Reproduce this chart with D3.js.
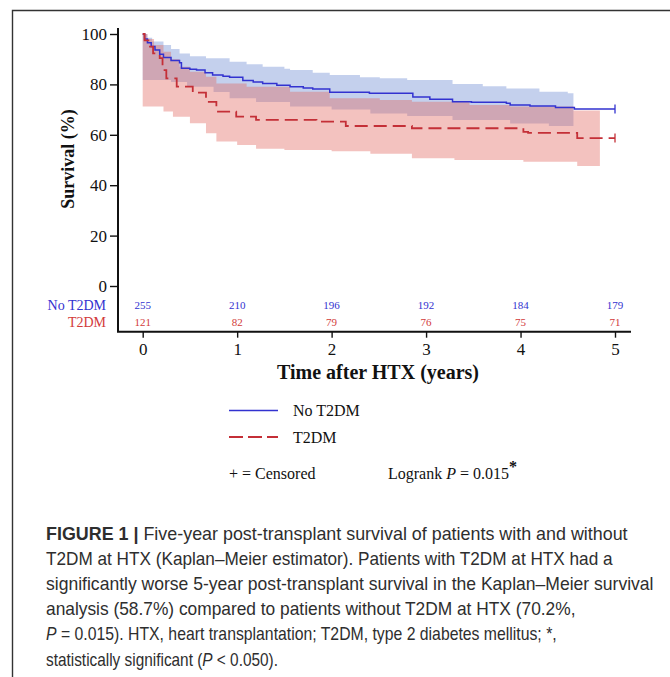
<!DOCTYPE html>
<html>
<head>
<meta charset="utf-8">
<script src="https://cdn.jsdelivr.net/npm/d3@7"></script>
<style>
  body { margin: 0; background: #fff; }
  svg { display: block; }
</style>
</head>
<body>
<div class="fig"></div>
<script>
// chart data
const years = [0, 1, 2, 3, 4, 5];
const yTicks = [0, 20, 40, 60, 80, 100];
const groups = ["No T2DM", "T2DM"];
const atRiskNo = [255, 210, 196, 192, 184, 179];
const atRiskT2 = [121, 82, 79, 76, 75, 71];

// No T2DM: Kaplan-Meier steps
const noTime = [0, 0.02, 0.05, 0.09, 0.13, 0.18, 0.22, 0.30, 0.39, 0.41, 0.50, 0.57, 0.66, 0.74, 0.85, 0.92, 1.06, 1.17, 1.27, 1.42, 1.56, 1.70, 1.80, 1.98, 2.40, 2.86, 3.04, 3.28, 3.48, 3.85, 3.89, 4.10, 4.37, 4.57];
const noSurv = [100, 98, 96.5, 95, 93.7, 92, 90.7, 89.5, 88.6, 86.4, 86, 85.7, 84.6, 83.7, 83.2, 82.8, 81.5, 81, 80.4, 79.7, 79.1, 78.6, 78.2, 76.9, 76.5, 75.0, 74.1, 73.1, 72.9, 72.5, 71.8, 71.4, 70.8, 70.2];
const noHiTime = [0, 0.05, 0.10, 0.22, 0.30, 0.39, 0.50, 0.67, 0.92, 1.10, 1.27, 1.50, 1.56, 1.80, 1.98, 2.30, 2.51, 2.80, 3.28, 3.60, 3.85, 4.20, 4.50];
const noHi = [100, 98.5, 97, 95.6, 94, 92.3, 91.2, 90.4, 89, 88, 87, 86.2, 85.7, 84.6, 83.7, 82.8, 82.4, 81.7, 80.2, 79.3, 78.4, 77.1, 76.5];
const noLoTime = [0, 0.30, 0.47, 0.75, 0.92, 1.20, 1.56, 2.00, 2.41, 2.80, 3.28, 3.89, 4.30];
const noLo = [81.7, 81, 79.1, 77, 74.5, 73, 71.2, 70, 68.5, 67.5, 65.9, 64.5, 63.5];
const noBandEnd = 4.56;

// T2DM: Kaplan-Meier steps
const t2Time = [0, 0.02, 0.06, 0.11, 0.18, 0.21, 0.25, 0.36, 0.53, 0.67, 0.78, 0.99, 1.20, 1.84, 2.15, 2.85, 4.03, 4.08, 4.60];
const t2Surv = [100, 97.5, 95, 92.3, 90.4, 85.7, 82.4, 79.1, 76.7, 73.1, 69.2, 67.2, 65.9, 65.2, 63.5, 62.6, 61.2, 60.8, 58.7];
const t2HiTime = [0, 0.05, 0.12, 0.22, 0.30, 0.39, 0.50, 0.67, 0.78, 1.10, 1.56, 1.98, 2.51, 2.85, 3.46, 3.89, 4.56];
const t2Hi = [100, 98, 95.6, 93, 90, 87, 85, 83, 80.4, 79.1, 77.1, 74.5, 73.8, 73.1, 71.8, 71.2, 69.6];
const t2LoTime = [0, 0.22, 0.32, 0.50, 0.67, 0.78, 1.00, 1.20, 1.50, 2.00, 2.41, 2.85, 3.30, 4.03, 4.60];
const t2Lo = [71.2, 69.2, 67.2, 64.6, 60.6, 57.3, 56, 54.5, 54, 53.5, 52.5, 50.7, 50, 49.3, 47.6];
const t2BandEnd = 4.84;

const followEnd = 5;

const captionLines = [
  [["FIGURE 1 | ", "b"], ["Five-year post-transplant survival of patients with and without", ""]],
  [["T2DM at HTX (Kaplan\u2013Meier estimator). Patients with T2DM at HTX had a", ""]],
  [["significantly worse 5-year post-transplant survival in the Kaplan\u2013Meier survival", ""]],
  [["analysis (58.7%) compared to patients without T2DM at HTX (70.2%,", ""]],
  [["P", "i"], [" = 0.015). HTX, heart transplantation; T2DM, type 2 diabetes mellitus; *,", ""]],
  [["statistically significant (", ""], ["P", "i"], [" < 0.050).", ""]]
];
// line widths as set in the figure (condensed face)
const captionWidths = [582, 567, 608, 530, 511, 232];

const width = 670, height = 677;
const blue = "#3232d0", red = "#c42f37";
const serif = "'Liberation Serif', 'Times New Roman', serif";

const svg = d3.select(".fig").append("svg")
  .attr("width", width)
  .attr("height", height);

// frame
svg.append("path")
  .attr("d", "M12.5,677V10.5H670")
  .attr("fill", "none")
  .attr("stroke", "#333")
  .attr("stroke-width", 1.4);

const x = d3.scaleLinear().domain([0, 5]).range([142.7, 615]);
const y = d3.scaleLinear().domain([0, 100]).range([286, 34]);

function steps(ts, vs, end) {
  const pts = ts.map((t, i) => [t, vs[i]]);
  pts.push([end, vs[vs.length - 1]]);
  return pts;
}
function valueAt(ts, vs, t) {
  let v = vs[0];
  for (let i = 0; i < ts.length; i++) if (ts[i] <= t) v = vs[i];
  return v;
}
function band(hiT, hi, loT, lo, end) {
  const ts = Array.from(new Set(hiT.concat(loT))).sort((a, b) => a - b);
  ts.push(end);
  return ts.map(t => ({ t: t, hi: valueAt(hiT, hi, t), lo: valueAt(loT, lo, t) }));
}

const area = d3.area()
  .curve(d3.curveStepAfter)
  .x(d => x(d.t))
  .y0(d => y(d.lo))
  .y1(d => y(d.hi));

const line = d3.line()
  .curve(d3.curveStepAfter)
  .x(d => x(d[0]))
  .y(d => y(d[1]));

// confidence bands
svg.append("path")
  .datum(band(noHiTime, noHi, noLoTime, noLo, noBandEnd))
  .attr("d", area)
  .attr("fill", "rgb(70,110,200)")
  .attr("fill-opacity", 0.32);

svg.append("path")
  .datum(band(t2HiTime, t2Hi, t2LoTime, t2Lo, t2BandEnd))
  .attr("d", area)
  .attr("fill", "rgb(224,102,96)")
  .attr("fill-opacity", 0.4);

// survival curves
const noPts = steps(noTime, noSurv, followEnd);
const t2Pts = steps(t2Time, t2Surv, followEnd);

svg.append("path")
  .datum(noPts)
  .attr("d", line)
  .attr("fill", "none")
  .attr("stroke", blue)
  .attr("stroke-width", 1.5);

svg.append("path")
  .datum(t2Pts)
  .attr("d", line)
  .attr("fill", "none")
  .attr("stroke", red)
  .attr("stroke-width", 1.8)
  .attr("stroke-dasharray", "13,6");

// censor marks at end of follow-up
svg.selectAll(".cens")
  .data([[noPts[noPts.length - 1], blue], [t2Pts[t2Pts.length - 1], red]])
  .enter()
  .append("line")
  .attr("x1", d => x(d[0][0]))
  .attr("x2", d => x(d[0][0]))
  .attr("y1", d => y(d[0][1]) - 4.5)
  .attr("y2", d => y(d[0][1]) + 4.5)
  .attr("stroke", d => d[1])
  .attr("stroke-width", 1.3);

// axes
const yAxis = svg.append("g")
  .attr("transform", "translate(118,0)")
  .call(d3.axisLeft(y).tickValues(yTicks).tickSize(8).tickPadding(3));
yAxis.select(".domain").remove();
yAxis.selectAll(".tick line").attr("stroke", "#111").attr("stroke-width", 1.4);
yAxis.selectAll("text").attr("font-family", serif).attr("font-size", 17).attr("fill", "#111");

const xAxis = svg.append("g")
  .attr("transform", "translate(0,331.7)")
  .call(d3.axisBottom(x).tickValues(years).tickFormat(d3.format("d")).tickSize(6).tickPadding(5));
xAxis.select(".domain").remove();
xAxis.selectAll(".tick line").attr("stroke", "#111").attr("stroke-width", 1.4);
xAxis.selectAll("text").attr("font-family", serif).attr("font-size", 17).attr("fill", "#111");

svg.append("path")
  .attr("d", "M118,28V331.7H631")
  .attr("fill", "none")
  .attr("stroke", "#111")
  .attr("stroke-width", 2);

// axis titles
svg.append("text")
  .attr("transform", "translate(74,159) rotate(-90)")
  .attr("text-anchor", "middle")
  .attr("font-family", serif)
  .attr("font-weight", "bold")
  .attr("font-size", 18)
  .attr("fill", "#111")
  .text("Survival (%)");

svg.append("text")
  .attr("x", 378)
  .attr("y", 379)
  .attr("text-anchor", "middle")
  .attr("font-family", serif)
  .attr("font-weight", "bold")
  .attr("font-size", 20)
  .attr("fill", "#111")
  .text("Time after HTX (years)");

// number at risk
const riskRows = [[atRiskNo, blue, 309], [atRiskT2, "#d23a3a", 326]];
riskRows.forEach((row, r) => {
  svg.append("text")
    .attr("x", 106)
    .attr("y", row[2] + 1)
    .attr("text-anchor", "end")
    .attr("font-family", serif)
    .attr("font-size", 14)
    .attr("fill", row[1])
    .text(groups[r]);
  svg.selectAll(".risk" + r)
    .data(row[0])
    .enter()
    .append("text")
    .attr("x", (d, i) => x(years[i]))
    .attr("y", row[2])
    .attr("text-anchor", "middle")
    .attr("font-family", serif)
    .attr("font-size", 11)
    .attr("fill", row[1])
    .text(d => d);
});

// legend
const legend = svg.append("g").attr("transform", "translate(229,0)");
[[blue, null, 410.5, 1.5], [red, "14,5", 437, 1.8]].forEach((l, i) => {
  legend.append("line")
    .attr("x1", 0).attr("x2", 49)
    .attr("y1", l[2]).attr("y2", l[2])
    .attr("stroke", l[0])
    .attr("stroke-width", l[3])
    .attr("stroke-dasharray", l[1]);
  legend.append("text")
    .attr("x", 64)
    .attr("y", l[2] + 5.5)
    .attr("font-family", serif)
    .attr("font-size", 16)
    .attr("fill", "#111")
    .text(groups[i]);
});

legend.append("text")
  .attr("x", 0)
  .attr("y", 478.5)
  .attr("font-family", serif)
  .attr("font-size", 16)
  .attr("fill", "#111")
  .text("+ = Censored");

const logrank = svg.append("text")
  .attr("x", 388)
  .attr("y", 478.5)
  .attr("font-family", serif)
  .attr("font-size", 16)
  .attr("fill", "#111");
logrank.append("tspan").text("Logrank ");
logrank.append("tspan").attr("font-style", "italic").text("P");
logrank.append("tspan").text(" = 0.015");
logrank.append("tspan").attr("font-weight", "bold").attr("dy", -7).attr("font-size", 16).text("*");

// caption, each line squeezed to its width in the figure
captionLines.forEach((parts, i) => {
  const t = svg.append("text")
    .attr("font-family", "'Liberation Sans Narrow', 'Liberation Sans', Arial, sans-serif")
    .attr("font-size", 17.5)
    .attr("fill", "#2e2e2e");
  parts.forEach(p => {
    t.append("tspan")
      .attr("font-weight", p[1] === "b" ? "bold" : null)
      .attr("font-style", p[1] === "i" ? "italic" : null)
      .text(p[0]);
  });
  const w = t.node().getComputedTextLength();
  t.attr("transform", "translate(46," + (539.5 + i * 25.2) + ") scale(" + (captionWidths[i] / w) + ",1)");
});
</script>
</body>
</html>
